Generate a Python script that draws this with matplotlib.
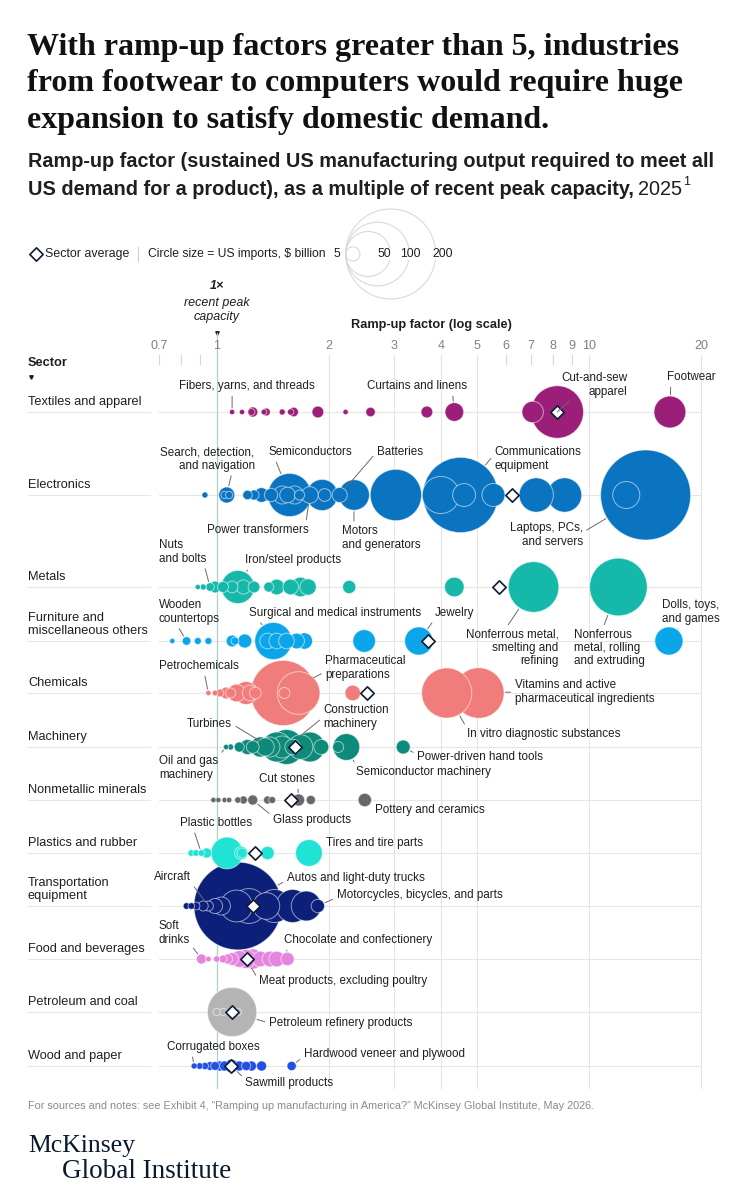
import numpy as np
import matplotlib
matplotlib.use("Agg")
import matplotlib.pyplot as plt
from matplotlib.patches import Circle

plt.rcParams['font.family'] = ['Liberation Sans', 'DejaVu Sans']

# ================================
# Data: ramp-up factor (x) and US imports in $ billion (circle size)
# ================================
sectors = ["Textiles and apparel", "Electronics", "Metals",
           "Furniture and\nmiscellaneous others", "Chemicals", "Machinery",
           "Nonmetallic minerals", "Plastics and rubber",
           "Transportation\nequipment", "Food and beverages",
           "Petroleum and coal", "Wood and paper"]

textiles_ramp = [1.10, 1.17, 1.24, 1.25, 1.34, 1.36, 1.50, 1.58, 1.61, 1.87, 2.22, 2.59, 3.67, 4.35, 7.06, 8.22, 16.5]
textiles_imp = [0.7, 0.7, 1.2, 2.5, 0.8, 1.5, 0.9, 1.0, 2.2, 3.4, 0.7, 2.2, 3.4, 8.6, 11.3, 68, 25]

electronics_ramp = [0.93, 1.05, 1.064, 1.08, 1.21, 1.26, 1.32, 1.40, 1.50, 1.55, 1.57, 1.62, 1.67, 1.78,
                    1.92, 1.95, 2.14, 2.34, 3.03, 4.0, 4.52, 4.62, 5.54, 7.22, 8.6, 12.6, 14.2]
electronics_imp = [0.9, 1.3, 6.3, 1.3, 2.2, 2.5, 5.3, 4.4, 8, 6, 46, 8, 2.5, 6.9,
                   24, 4, 5.6, 23, 65, 34, 140, 13, 13, 29, 29, 18, 200]

metals_ramp = [0.89, 0.92, 0.96, 0.99, 1.04, 1.10, 1.14, 1.18, 1.26, 1.38, 1.45, 1.58, 1.68, 1.76, 2.27, 4.35, 7.1, 12.0]
metals_imp = [0.7, 0.9, 1.8, 3.4, 3.0, 3.4, 27, 5.0, 3.4, 2.5, 6, 6, 9.4, 6.6, 4.3, 9.4, 63, 82]

furniture_ramp = [0.76, 0.83, 0.89, 0.95, 1.10, 1.12, 1.19, 1.37, 1.42, 1.45, 1.54, 1.64, 1.72, 2.49, 3.49, 16.4]
furniture_imp = [0.7, 1.8, 1.2, 1.2, 3.4, 1.5, 4.8, 6, 34, 6, 6, 6, 6.6, 12.6, 19.5, 19.5]

chemicals_ramp = [0.95, 0.99, 1.02, 1.06, 1.09, 1.13, 1.20, 1.23, 1.27, 1.51, 1.52, 1.66, 2.32, 4.15, 5.06]
chemicals_imp = [0.7, 0.8, 1.5, 3.4, 2.5, 7.6, 13, 6, 3.4, 105, 3, 45, 6, 62, 63]

machinery_ramp = [1.06, 1.09, 1.15, 1.21, 1.25, 1.31, 1.35, 1.39, 1.45, 1.50, 1.54, 1.60, 1.68, 1.78, 1.91, 2.12, 2.23, 3.17]
machinery_imp = [0.7, 0.9, 2.5, 5.6, 4, 10, 8, 10, 22, 12, 30, 6, 15, 22, 5.6, 3, 17.6, 4.8]

nonmetallic_ramp = [0.98, 1.01, 1.05, 1.08, 1.14, 1.18, 1.25, 1.37, 1.41, 1.66, 1.79, 2.50]
nonmetallic_imp = [0.7, 0.7, 0.7, 0.7, 1.0, 1.6, 2.5, 1.6, 1.2, 3.6, 2.1, 4.4]

plastics_ramp = [0.855, 0.88, 0.91, 0.94, 1.066, 1.165, 1.17, 1.37, 1.77]
plastics_imp = [1.1, 1.1, 1.1, 2.5, 25, 4.4, 2.5, 4.4, 17.6]

transport_ramp = [0.83, 0.855, 0.88, 0.92, 0.95, 0.99, 1.03, 1.13, 1.14, 1.22, 1.36, 1.43, 1.60, 1.74, 1.87]
transport_imp = [1.1, 1.1, 1.5, 2.5, 2.5, 5.6, 8, 25, 190, 30, 17.6, 27, 27, 22, 4.4]

food_ramp = [0.91, 0.95, 1.00, 1.04, 1.07, 1.10, 1.15, 1.20, 1.25, 1.31, 1.39, 1.45, 1.55]
food_imp = [2.5, 0.8, 1.0, 1.5, 2.5, 4, 6.9, 9, 10, 6, 6, 6, 4.4]

petroleum_ramp = [1.00, 1.04, 1.10, 1.14]
petroleum_imp = [1.3, 1.3, 60, 1.3]

wood_ramp = [0.87, 0.90, 0.93, 0.96, 0.99, 1.02, 1.05, 1.095, 1.15, 1.20, 1.24, 1.32, 1.59]
wood_imp = [0.9, 1.1, 1.3, 1.9, 1.9, 2.5, 2.5, 4.4, 2.5, 2.1, 2.5, 2.5, 2.1]

sector_avg = [8.2, 6.2, 5.72, 3.69, 2.53, 1.62, 1.58, 1.27, 1.25, 1.21, 1.10, 1.095]

ramps = [textiles_ramp, electronics_ramp, metals_ramp, furniture_ramp, chemicals_ramp,
         machinery_ramp, nonmetallic_ramp, plastics_ramp, transport_ramp, food_ramp,
         petroleum_ramp, wood_ramp]
imports = [textiles_imp, electronics_imp, metals_imp, furniture_imp, chemicals_imp,
           machinery_imp, nonmetallic_imp, plastics_imp, transport_imp, food_imp,
           petroleum_imp, wood_imp]

colors = ["#9b1f79", "#0b74c1", "#16b9a9", "#0ba6ea", "#f07d7c", "#0e8a7a",
          "#686868", "#20e3d4", "#0c1f79", "#e685de", "#b4b4b4", "#2350e2"]

tick_vals = [0.7, 1, 2, 3, 4, 5, 6, 7, 8, 9, 10, 20]
tick_labels = ["0.7", "1", "2", "3", "4", "5", "6", "7", "8", "9", "10", "20"]
legend_vals = [5, 50, 100, 200]

# (sector, point index, text, dx px, dy px, ha, relpos of leader or None)
notes = [
    (0, 0, "Fibers, yarns, and threads", 15, 26, "center", (0.39, 0)),
    (0, 13, "Curtains and linens", -37, 26, "center", (0.85, 0)),
    (0, 15, "Cut-and-sew\napparel", 70, 27, "right", (0.38, 0.48)),
    (0, 16, "Footwear", -3, 35, "left", (0.08, 0)),
    (1, 2, "Search, detection,\nand navigation", 28, 36, "right", (0.76, 0)),
    (1, 10, "Semiconductors", 21, 43, "center", (0.07, 0)),
    (1, 16, "Batteries", 37, 43, "left", (0, 0.5)),
    (1, 20, "Communications\nequipment", 34, 36, "left", (0, 0.7)),
    (1, 13, "Power transformers", -52, -35, "center", (0.97, 1)),
    (1, 17, "Motors\nand generators", -12, -43, "left", (0.15, 1)),
    (1, 26, "Laptops, PCs,\nand servers", -63, -40, "right", (1, 0.6)),
    (2, 2, "Nuts\nand bolts", -51, 35, "left", (0.95, 0)),
    (2, 6, "Iron/steel products", 55, 27, "center", (0.05, 0)),
    (2, 16, "Nonferrous metal,\nsmelting and\nrefining", 25, -61, "right", (0.43, 1)),
    (2, 17, "Nonferrous\nmetal, rolling\nand extruding", -44, -61, "left", (0.4, 1)),
    (3, 1, "Wooden\ncountertops", -28, 29, "left", (0.3, 0)),
    (3, 8, "Surgical and medical instruments", 62, 28, "center", (0.05, 0)),
    (3, 14, "Jewelry", 16, 28, "left", (0, 0)),
    (3, 15, "Dolls, toys,\nand games", -7, 29, "left", (0.33, 0)),
    (4, 0, "Petrochemicals", -49, 27, "left", (0.56, 0)),
    (4, 9, "Pharmaceutical\npreparations", 42, 25, "left", (0, 0.35)),
    (4, 13, "In vitro diagnostic substances", 20, -41, "left", (0, 1)),
    (4, 14, "Vitamins and active\npharmaceutical ingredients", 36, 1, "left", (0, 0.5)),
    (5, 0, "Oil and gas\nmachinery", -67, -21, "left", (0.95, 0.8)),
    (5, 7, "Turbines", -38, 23, "right", (1, 0.5)),
    (5, 10, "Construction\nmachinery", 37, 30, "left", (0, 0.5)),
    (5, 16, "Semiconductor machinery", 10, -25, "left", (0, 1)),
    (5, 17, "Power-driven hand tools", 14, -10, "left", (0, 0.7)),
    (6, 6, "Glass products", 20, -20, "left", (0, 0.8)),
    (6, 9, "Cut stones", -12, 21, "center", (0.7, 0)),
    (6, 11, "Pottery and ceramics", 10, -10, "left", None),
    (7, 2, "Plastic bottles", 15, 30, "center", (0.18, 0)),
    (7, 8, "Tires and tire parts", 17, 10, "left", None),
    (8, 4, "Aircraft", -54, 29, "left", (1, 0)),
    (8, 8, "Autos and light-duty trucks", 49, 28, "left", (0, 0.3)),
    (8, 14, "Motorcycles, bicycles, and parts", 19, 11, "left", (0, 0.3)),
    (9, 0, "Soft\ndrinks", -43, 26, "left", (1, 0.1)),
    (9, 12, "Chocolate and confectionery", -4, 19, "left", (0.02, 0)),
    (9, 7, "Meat products, excluding poultry", 13, -22, "left", (0, 0.5)),
    (10, 2, "Petroleum refinery products", 37, -11, "left", (0, 0.5)),
    (11, 0, "Corrugated boxes", 19, 19, "center", (0.27, 0)),
    (11, 12, "Hardwood veneer and plywood", 12, 12, "left", (0, 0.3)),
    (11, 7, "Sawmill products", 14, -17, "left", (0, 0.8)),
]

# ================================
# Layout (pixels)
# ================================
W, H = 755, 1200
row_y = [412, 495, 587, 641, 693, 747, 800, 853, 906, 959, 1012, 1066]
x_left, x_right = 159, 701
y_top, y_bot = 355, 1088
S = 21.0  # marker area (pt^2) per $ billion
ink = "#1f1f1f"

fig = plt.figure(figsize=(W / 100, H / 100), dpi=100)
bg = fig.add_axes([0, 0, 1, 1])
bg.set_xlim(0, W)
bg.set_ylim(H, 0)
bg.axis("off")

ax = fig.add_axes([x_left / W, 1 - y_bot / H, (x_right - x_left) / W, (y_bot - y_top) / H])
ax.set_xscale("log")
ax.set_xlim(0.7, 20)
ax.set_ylim(y_bot, y_top)
ax.patch.set_alpha(0)
for s in ax.spines.values():
    s.set_visible(False)
ax.xaxis.set_minor_locator(matplotlib.ticker.NullLocator())
ax.set_xticks(tick_vals)
ax.set_xticklabels(tick_labels)
ax.xaxis.set_ticks_position("top")
ax.tick_params(axis="x", length=0, pad=2.5, labelsize=9, labelcolor="#808080")
ax.set_yticks([])

# grid
for v in [2, 3, 4, 5, 10, 20]:
    ax.plot([v, v], [y_top, y_bot], color="#e4e4e4", lw=0.8, zorder=0, clip_on=False)
for v in [0.7, 0.8, 0.9, 6, 7, 8, 9]:
    ax.plot([v, v], [y_top, y_top + 9], color="#d8d8d8", lw=0.8, zorder=0, clip_on=False)
ax.plot([1, 1], [333, y_bot], color="#a9d3c8", lw=0.9, zorder=1, clip_on=False)
for y in row_y:
    ax.plot([0.7, 20], [y, y], color="#e6e6e6", lw=0.8, zorder=0)
    bg.plot([28, 150], [y, y], color="#e6e6e6", lw=0.8)

# circles: largest first so small ones stay visible
xs, ys, ss, cs = [], [], [], []
for i in range(len(sectors)):
    for r, m in zip(ramps[i], imports[i]):
        xs.append(r); ys.append(row_y[i]); ss.append(S * m); cs.append(colors[i])
order = np.argsort(ss)[::-1]
ax.scatter(np.array(xs)[order], np.array(ys)[order], s=np.array(ss)[order],
           c=[cs[k] for k in order], edgecolors=(1, 1, 1, 0.55), linewidths=0.7,
           zorder=3, clip_on=False)
ax.scatter(sector_avg, row_y, marker="D", s=46, facecolors="white",
           edgecolors="#0d1b33", linewidths=1.2, zorder=6, clip_on=False)

# annotations
for si, pi, txt, dx, dy, ha, rel in notes:
    imp = imports[si][pi]
    props = None
    if rel is not None:
        props = dict(arrowstyle="-", color="#6a6a6a", lw=0.7, shrinkA=1,
                     shrinkB=np.sqrt(S * imp) / 2 + 1, relpos=rel)
    ax.annotate(txt, xy=(ramps[si][pi], row_y[si]), xytext=(dx, dy),
                textcoords="offset pixels", ha=ha, va="center", fontsize=8.4,
                color=ink, linespacing=1.15, arrowprops=props, zorder=7)

# sector labels
for i, name in enumerate(sectors):
    bg.text(28, row_y[i] - 4, name, ha="left", va="bottom", fontsize=9.2,
            color=ink, linespacing=1.15)
bg.text(28, 363, "Sector", ha="left", va="center", fontsize=9.2, weight="bold", color=ink)
bg.plot([30.5], [377], marker="v", ms=2.5, color=ink)

# axis header
bg.text(217, 286, "1×", ha="center", va="center", fontsize=9, weight="bold",
        style="italic", color=ink)
bg.text(217, 310, "recent peak\ncapacity", ha="center", va="center", fontsize=9,
        style="italic", color=ink, linespacing=1.15)
bg.plot([217], [333], marker="v", ms=2.5, color=ink)
bg.text(431, 325, "Ramp-up factor (log scale)", ha="center", va="center",
        fontsize=9.2, weight="bold", color=ink)

# title and subtitle
title_lines = ["With ramp-up factors greater than 5, industries",
               "from footwear to computers would require huge",
               "expansion to satisfy domestic demand."]
for k, line in enumerate(title_lines):
    bg.text(27, 55 + k * 36.5, line, ha="left", va="baseline", fontsize=23,
            weight="bold", family="Liberation Serif", color="#111111")
bg.text(28, 167, "Ramp-up factor (sustained US manufacturing output required to meet all",
        ha="left", va="baseline", fontsize=14.3, weight="bold", color=ink)
t2 = bg.text(28, 195, "US demand for a product), as a multiple of recent peak capacity,",
             ha="left", va="baseline", fontsize=14.3, weight="bold", color=ink)
fig.canvas.draw()
bb = t2.get_window_extent()
t3 = bg.text(bb.x1 + 4, 195, "2025", ha="left", va="baseline", fontsize=14.3, color=ink)
fig.canvas.draw()
bb3 = t3.get_window_extent()
bg.text(bb3.x1 + 1, 185, "1", ha="left", va="baseline", fontsize=9, color=ink)

# legend
bg.scatter([36], [254], marker="D", s=46, facecolors="white", edgecolors="#0d1b33",
           linewidths=1.2)
bg.text(45, 254, "Sector average", ha="left", va="center", fontsize=8.9, color=ink)
bg.plot([138, 138], [247, 261], color="#cfcfcf", lw=0.8)
bg.text(148, 254, "Circle size = US imports, $ billion", ha="left", va="center",
        fontsize=8.7, color=ink)
bg.text(337, 254, "5", ha="center", va="center", fontsize=8.7, color=ink)
lx = 345.7
label_shift = {50: -6, 100: 1, 200: 7}
for v in legend_vals:
    r = np.sqrt(S * v) / 1.44
    bg.add_patch(Circle((lx + r, 254), r, fill=False, ec="#d9d9d9", lw=0.8))
    if v > 5:
        bg.text(lx + 2 * r + label_shift[v], 254, str(v), ha="center",
                va="center", fontsize=8.7, color=ink,
                bbox=dict(boxstyle="square,pad=0.02", fc="white", ec="none"))

# footer
bg.text(28, 1106, "For sources and notes: see Exhibit 4, “Ramping up manufacturing in America?” "
        "McKinsey Global Institute, May 2026.", ha="left", va="center", fontsize=7.85,
        color="#8a8a8a")
bg.text(28, 1152, "McKinsey", ha="left", va="baseline", fontsize=18.5,
        family="Liberation Serif", color="#0a1a2e")
bg.text(62, 1178, "Global Institute", ha="left", va="baseline", fontsize=19.5,
        family="Liberation Serif", color="#0a1a2e")

fig.savefig("out.png", dpi=100)
